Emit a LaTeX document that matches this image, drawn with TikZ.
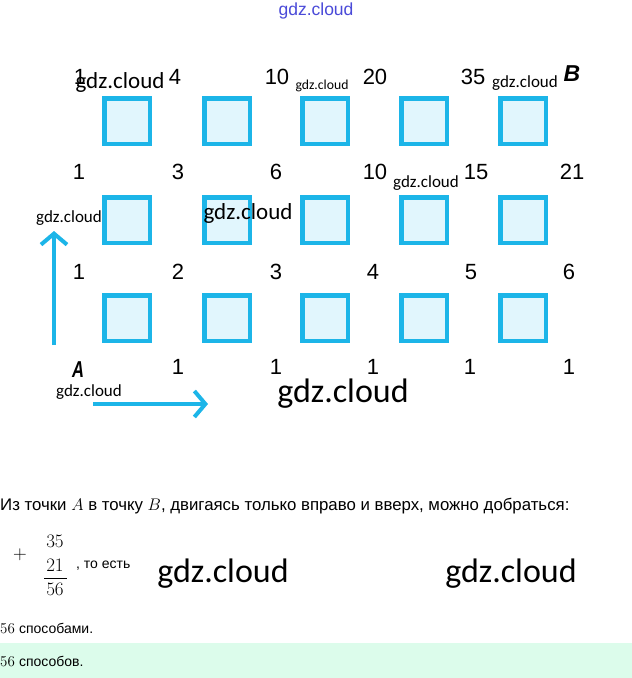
\documentclass[tikz,border=0pt]{standalone}
\usepackage{fix-cm}
\usepackage[no-math]{fontspec}
\setmainfont{Liberation Sans}
\newfontfamily\wmfont{Carlito}
\usetikzlibrary{arrows.meta}
\definecolor{cy}{HTML}{1CB5E8}
\definecolor{cyfill}{HTML}{E1F6FD}
\definecolor{mint}{HTML}{DCFCEB}
\definecolor{wmblue}{HTML}{4A4AD8}
\tikzset{
  sq/.style={draw=cy, line width=4.5pt, fill=cyfill, minimum width=45.5pt, minimum height=45.5pt, inner sep=0pt},
  num/.style={font=\fontsize{22}{22}\selectfont, inner sep=0pt},
  pt/.style={font=\fontsize{23}{23}\selectfont\bfseries\itshape, inner sep=0pt},
  wm/.style={font=\wmfont\fontsize{#1}{#1}\selectfont, inner sep=0pt, text=black},
  body/.style={font=\fontsize{14}{14}\selectfont, inner sep=0pt, anchor=west},
  mnum/.style={font=\fontsize{19}{19}\selectfont, inner sep=0pt},
  arr/.style={draw=cy, line width=4pt, -{Straight Barb[length=11pt,width=26pt,line width=4pt]}},
}
\begin{document}
\begin{tikzpicture}[x=1pt,y=-1pt]
\useasboundingbox (0,0) rectangle (632,678);
% squares
\foreach \r/\yy in {1/121,2/220,3/318}{
  \foreach \c/\xx in {1/127,2/227,3/325,4/424,5/523}{
    \node[sq] (s\r\c) at (\xx,\yy) {};
  }
}
% row 0
\node[num] (n01) at (80,77) {1};
\node[num] (n02) at (175,77) {4};
\node[num] (n03) at (277,77) {10};
\node[num] (n04) at (375,77) {20};
\node[num] (n05) at (473,77) {35};
\node[pt] (B) at (572,74) {B};
% row 1
\node[num] (n11) at (79,172) {1};
\node[num] (n12) at (178,172) {3};
\node[num] (n13) at (276,172) {6};
\node[num] (n14) at (375,172) {10};
\node[num] (n15) at (476,172) {15};
\node[num] (n16) at (572,172) {21};
% row 2
\node[num] (n21) at (79,272) {1};
\node[num] (n22) at (178,272) {2};
\node[num] (n23) at (276,272) {3};
\node[num] (n24) at (373,272) {4};
\node[num] (n25) at (471,272) {5};
\node[num] (n26) at (569,272) {6};
% row 3
\node[pt, font=\fontsize{23}{23}\selectfont\itshape] (A) at (78,370) {\scalebox{0.72}[1]{\bfseries A}};
\node[num] (n32) at (178,367) {1};
\node[num] (n33) at (276,367) {1};
\node[num] (n34) at (373,367) {1};
\node[num] (n35) at (470,367) {1};
\node[num] (n36) at (569,367) {1};
% arrows
\coordinate (up0) at (54,345);
\coordinate (up1) at (54,231);
\coordinate (rt0) at (93,404);
\coordinate (rt1) at (208,404);
\draw[arr] (up0) -- (up1);
\draw[arr] (rt0) -- (rt1);
% watermarks
\node[font=\fontsize{17.5}{17.5}\selectfont, text=wmblue, inner sep=0pt] (w0) at (316,11) {gdz.cloud};
\node[wm=23] (w1) at (120,82) {gdz.cloud};
\node[wm=13.7] (w2) at (322,86) {gdz.cloud};
\node[wm=17] (w3) at (525,83) {gdz.cloud};
\node[wm=17] (w4) at (426,183) {gdz.cloud};
\node[wm=17] (w5) at (69,218) {gdz.cloud};
\node[wm=23] (w6) at (248,213) {gdz.cloud};
\node[wm=17] (w7) at (89,392) {gdz.cloud};
\node[wm=34] (w8) at (343,394) {gdz.cloud};
\node[wm=34] (w9) at (223,574) {gdz.cloud};
\node[wm=34] (w10) at (511,574) {gdz.cloud};
% text
\node[body, font=\fontsize{16.8}{16.8}\selectfont] (t1) at (0,506) {Из точки $A$ в точку $B$, двигаясь только вправо и вверх, можно добраться:};
\node[font=\fontsize{19}{19}\selectfont, inner sep=0pt] (plus) at (20,555) {$+$};
\node[mnum] (m1) at (55,541) {$35$};
\node[mnum] (m2) at (55,565) {$21$};
\node[mnum] (m3) at (55,589) {$56$};
\draw[line width=0.7pt] (44,578) -- (67,578);
\node[body, font=\fontsize{14}{14}\selectfont] (t2) at (76,566) {, то есть};
\node[body] (t3) at (0,628) {\fontsize{15}{15}\selectfont$56$ \fontsize{14}{14}\selectfont способами.};
\fill[mint] (0,643) rectangle (632,678);
\node[body] (t4) at (0,661) {\fontsize{15}{15}\selectfont$56$ \fontsize{14}{14}\selectfont способов.};
\end{tikzpicture}
\end{document}
